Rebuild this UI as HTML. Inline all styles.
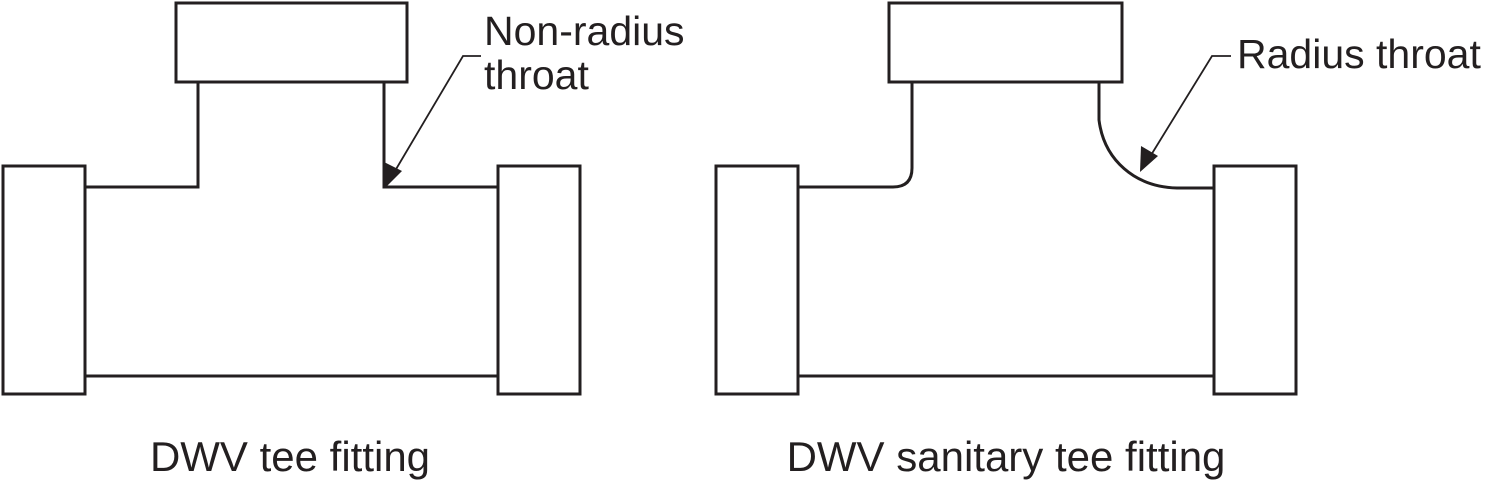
<!DOCTYPE html>
<html><head><meta charset="utf-8"><style>
html,body{margin:0;padding:0;background:#fff;}
svg{display:block;}
text{font-family:"Liberation Sans",Arial,sans-serif;fill:#231f20;}
</style></head><body>
<svg width="1485" height="483" viewBox="0 0 1485 483" xmlns="http://www.w3.org/2000/svg">
<g fill="none" stroke="#231f20" stroke-width="3">
<rect x="176" y="3" width="231" height="79"/>
<path d="M198,82 V187 H85"/>
<path d="M384,82 V187 H498"/>
<rect x="3" y="166" width="82" height="228"/>
<rect x="498" y="166" width="82" height="228"/>
<line x1="85" y1="376" x2="498" y2="376"/>
<rect x="889" y="3" width="233" height="79"/>
<path d="M912,82 V168 Q912,187 893,187 H799"/>
<path d="M1099,82 V120 C1104,160 1135,187 1177,188 H1214"/>
<rect x="716" y="166" width="82" height="228"/>
<rect x="1214" y="166" width="82" height="228"/>
<line x1="798" y1="376" x2="1214" y2="376"/>
</g>
<g fill="none" stroke="#231f20" stroke-width="1.8">
<path d="M481,56 H463 L392,176"/>
<path d="M1231,56 H1212 L1148,160"/>
</g>
<polygon points="385,188 384,162 402,171" fill="#231f20"/>
<polygon points="1140,172 1141,146 1158,156" fill="#231f20"/>
<g font-size="41">
<text x="484" y="45">Non-radius</text>
<text x="484" y="89">throat</text>
<text x="1237" y="68">Radius throat</text>
</g>
<g font-size="42">
<text x="290" y="471" text-anchor="middle">DWV tee fitting</text>
<text x="1006" y="471" text-anchor="middle">DWV sanitary tee fitting</text>
</g>
</svg>
</body></html>
